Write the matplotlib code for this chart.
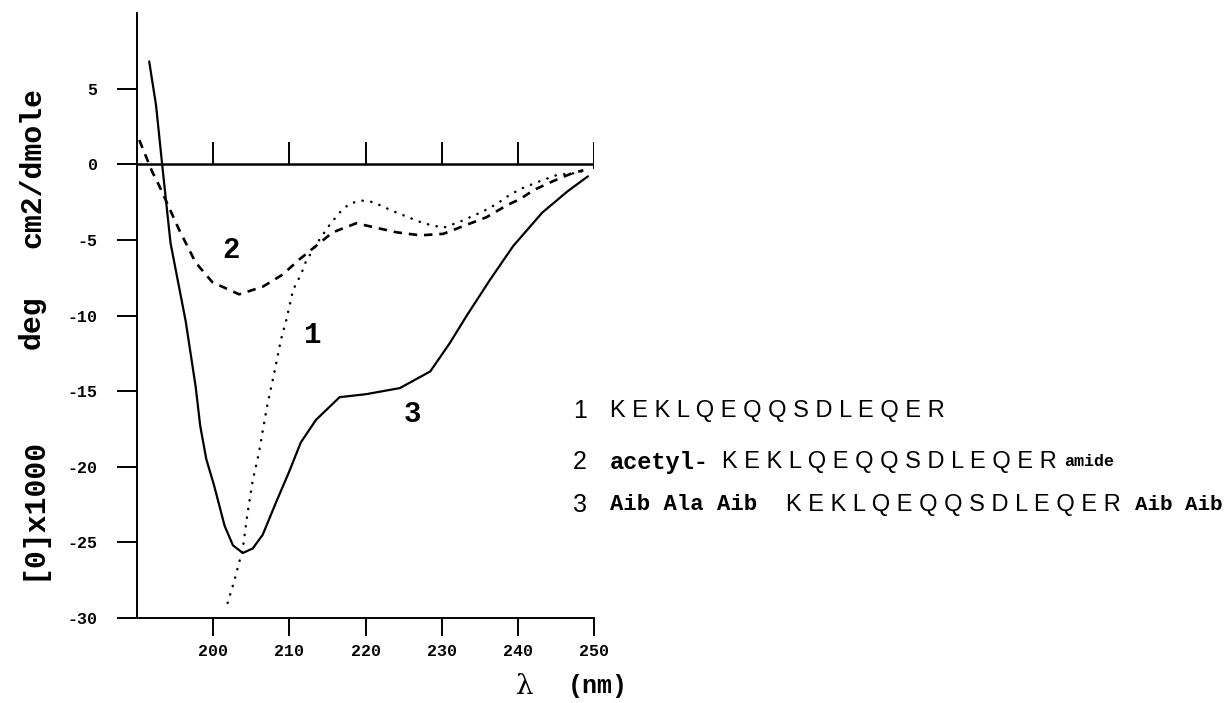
import matplotlib
matplotlib.use("Agg")
import matplotlib.pyplot as plt

# ---- data ----
wl1 = [201.9, 202.8, 203.9, 204.5, 205.2, 206.0, 207.0, 208.1, 208.9, 209.6, 210.5,
       211.6, 212.2, 213.8, 215.3, 216.6, 217.9, 219.5, 221.0, 223.6, 226.1, 227.6,
       230.2, 232.4, 235.5, 237.3, 239.0, 240.5, 243.0, 245.2, 247.3, 248.9]
val1 = [-29.0, -27.5, -25.4, -23.1, -20.9, -19.1, -16.2, -13.6, -11.6, -10.3, -8.3,
        -7.2, -6.4, -5.1, -4.0, -3.2, -2.6, -2.4, -2.5, -3.1, -3.6, -3.9,
        -4.2, -3.8, -3.1, -2.6, -2.0, -1.6, -1.1, -0.7, -0.6, -0.4]

wl2 = [190.3, 192.0, 192.9, 195.5, 197.7, 199.9, 203.4, 206.5, 209.1, 211.3, 213.5,
       215.7, 218.8, 221.4, 224.1, 227.2, 230.2, 233.3, 235.9, 238.6, 240.3, 242.1,
       244.7, 247.1, 248.6]
val2 = [1.6, -0.5, -1.4, -4.3, -6.5, -7.8, -8.6, -8.1, -7.3, -6.3, -5.4,
        -4.5, -3.9, -4.2, -4.5, -4.7, -4.6, -4.0, -3.5, -2.7, -2.3, -1.7,
        -1.1, -0.6, -0.4]

wl3 = [191.6, 192.5, 193.3, 194.4, 196.4, 197.7, 198.3, 199.1, 200.1, 201.5, 202.6,
       203.9, 205.2, 206.5, 208.3, 210.0, 211.5, 213.5, 216.6, 220.1, 224.5, 228.5,
       231.1, 233.3, 236.4, 239.4, 243.2, 246.5, 249.2]
val3 = [6.8, 3.9, 0.0, -5.2, -10.4, -14.7, -17.3, -19.5, -21.2, -23.9, -25.2,
        -25.7, -25.4, -24.5, -22.3, -20.3, -18.4, -16.9, -15.4, -15.2, -14.8, -13.7,
        -11.8, -10.0, -7.6, -5.4, -3.2, -1.8, -0.8]

x_ticks = [200, 210, 220, 230, 240, 250]
y_ticks = [-30, -25, -20, -15, -10, -5, 0, 5]
zero_line_ticks = [200, 210, 220, 230, 240, 250]

curve_labels = ["1", "2", "3"]
curve_label_pos = [(213.1, -11.3), (202.3, -5.7), (226.1, -16.5)]

legend_nums = ["1", "2", "3"]
peptide = "KEKLQEQQSDLEQER"
legend_pre = ["", "acetyl-", "Aib Ala Aib"]
legend_post = ["", "amide", "Aib Aib"]

# ---- figure ----
W, H = 1224, 703
fig = plt.figure(figsize=(W / 100, H / 100), dpi=100)
L, R, B, T = 137, 594, 618, 13
ax = fig.add_axes([L / W, 1 - B / H, (R - L) / W, (B - T) / H])


def fx(px):
    return px / W


def fy(py):
    return 1 - py / H


ax.plot(wl3, val3, color="black", lw=1.6, solid_capstyle="round")
ax.plot(wl2, val2, color="black", lw=1.9, linestyle=(0, (3.2, 2.6)))
ax.plot(wl1, val1, color="black", lw=1.8, linestyle=(0, (0.1, 3.4)),
        dash_capstyle="round")

# zero line with upward ticks
ax.hlines(0, 190, 250, color="black", lw=1.8)
ax.vlines(zero_line_ticks[:-1], 0, 1.45, color="black", lw=1.4)
ax.vlines(zero_line_ticks[-1:], -0.3, 1.45, color="black", lw=1.4)

ax.set_xlim(190, 250)
ax.set_ylim(-30, 10)
for s in ("top", "right"):
    ax.spines[s].set_visible(False)
for s in ("left", "bottom"):
    ax.spines[s].set_linewidth(1.4)

mono = "Liberation Mono"

ax.set_xticks(x_ticks)
ax.set_xticklabels([str(v) for v in x_ticks], fontfamily=mono,
                   fontweight="bold", fontsize=12)
ax.set_yticks(y_ticks)
ax.set_yticklabels([str(v) for v in y_ticks], fontfamily=mono,
                   fontweight="bold", fontsize=12)
ax.tick_params(axis="x", direction="out", length=13, width=1.4, pad=6)
ax.tick_params(axis="y", direction="out", length=14.4, width=1.4, pad=14)

# curve labels
for lab, (x, y) in zip(curve_labels, curve_label_pos):
    ax.text(x, y, lab, fontfamily=mono, fontweight="bold", fontsize=21,
            ha="center", va="center")

# y-axis label (three pieces)
ylab_fs = 21.5
fig.text(fx(32), fy(508), "[0]x1000", rotation=90, fontfamily=mono,
         fontweight="bold", fontsize=ylab_fs, ha="center", va="center")
fig.text(fx(32), fy(322), "deg", rotation=90, fontfamily=mono,
         fontweight="bold", fontsize=ylab_fs, ha="center", va="center")
fig.text(fx(32), fy(168), "cm2/dmole", rotation=90, fontfamily=mono,
         fontweight="bold", fontsize=ylab_fs, ha="center", va="center")

# x-axis label
fig.text(fx(525), fy(686), "λ", fontfamily="DejaVu Serif", fontsize=20,
         ha="center", va="center")
fig.text(fx(568), fy(686), "(nm)", fontfamily=mono, fontweight="bold",
         fontsize=18, ha="left", va="center")

# legend text block
rows_y = [411, 462, 505]
num_x = 573
pre_x = [610, 610, 610]
pre_fs = [17, 17, 16]
pep_x = [610, 722, 786]
post_x = [None, 1064, 1135]
post_fs = [None, 12, 15]
for i in range(3):
    y = fy(rows_y[i])
    fig.text(fx(num_x), y, legend_nums[i], fontfamily="Liberation Sans",
             fontsize=18, ha="left", va="center")
    if legend_pre[i]:
        fig.text(fx(pre_x[i]), y, legend_pre[i], fontfamily=mono,
                 fontweight="bold", fontsize=pre_fs[i], ha="left", va="center")
    fig.text(fx(pep_x[i]), y, " ".join(peptide), fontfamily="Liberation Sans",
             fontsize=17, ha="left", va="center")
    if legend_post[i]:
        fig.text(fx(post_x[i]), y, legend_post[i], fontfamily=mono,
                 fontweight="bold", fontsize=post_fs[i], ha="left", va="center")

fig.savefig("out.png", dpi=100)
